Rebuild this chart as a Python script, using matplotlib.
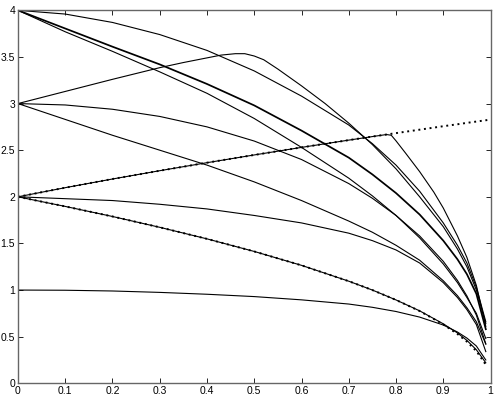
import matplotlib
matplotlib.use("Agg")
import matplotlib.pyplot as plt

plt.rcParams['font.family'] = ['Liberation Sans', 'DejaVu Sans']

X = [0, 0.1, 0.2, 0.3, 0.4, 0.5, 0.6, 0.7, 0.75, 0.8, 0.85, 0.9, 0.93, 0.95, 0.97, 0.99]

curve_a = [1, 0.998, 0.99, 0.975, 0.955, 0.93, 0.895, 0.85, 0.815, 0.77, 0.71, 0.625, 0.55, 0.485, 0.40, 0.25]
curve_d_dotted = [2, 1.897, 1.789, 1.673, 1.549, 1.414, 1.265, 1.095, 1.0, 0.894, 0.775, 0.632, 0.529, 0.447, 0.346, 0.2]
curve_d_solid = [2, 1.897, 1.789, 1.673, 1.549, 1.414, 1.265, 1.095, 1.0, 0.894, 0.777, 0.638, 0.54, 0.46, 0.36, 0.22]
curve_e = [2, 1.98, 1.96, 1.92, 1.87, 1.80, 1.72, 1.61, 1.53, 1.43, 1.29, 1.08, 0.92, 0.79, 0.63, 0.34]

X_F = X + [1.0]
curve_f_dotted = [2, 2.098, 2.191, 2.280, 2.366, 2.449, 2.530, 2.608, 2.646, 2.683, 2.720, 2.757, 2.778, 2.793, 2.807, 2.821, 2.828]

X_G = [0, 0.1, 0.2, 0.3, 0.4, 0.5, 0.6, 0.7, 0.75, 0.78, 0.79, 0.8, 0.82, 0.85, 0.88, 0.9, 0.93, 0.95, 0.97, 0.99]
curve_g = [2, 2.098, 2.191, 2.280, 2.366, 2.449, 2.530, 2.608, 2.646, 2.668, 2.66, 2.6, 2.47, 2.27, 2.05, 1.88, 1.58, 1.35, 1.05, 0.61]

X_C = [0, 0.1, 0.2, 0.3, 0.35, 0.4, 0.43, 0.46, 0.48, 0.5, 0.52, 0.55, 0.6, 0.65, 0.7, 0.75, 0.8,
       0.85, 0.9, 0.93, 0.95, 0.97, 0.99]
curve_c = [3, 3.13, 3.26, 3.385, 3.44, 3.49, 3.52, 3.535, 3.535, 3.51, 3.47, 3.37, 3.19, 3.0, 2.79, 2.56, 2.3,
           2.0, 1.68, 1.44, 1.25, 1.0, 0.64]

curve_b1 = [4, 3.96, 3.87, 3.74, 3.57, 3.35, 3.08, 2.77, 2.57, 2.34, 2.06, 1.72, 1.48, 1.29, 1.03, 0.66]
curve_b2 = [4, 3.805, 3.61, 3.42, 3.21, 2.98, 2.71, 2.42, 2.24, 2.04, 1.81, 1.53, 1.33, 1.17, 0.96, 0.58]
curve_b3 = [4, 3.77, 3.56, 3.34, 3.11, 2.84, 2.53, 2.2, 2.01, 1.8, 1.56, 1.28, 1.08, 0.92, 0.75, 0.48]
curve_h = [3, 2.985, 2.939, 2.862, 2.75, 2.598, 2.4, 2.142, 1.984, 1.8, 1.58, 1.308, 1.103, 0.937, 0.731, 0.423]
curve_i = [3, 2.83, 2.66, 2.5, 2.34, 2.16, 1.96, 1.74, 1.62, 1.48, 1.32, 1.1, 0.94, 0.81, 0.66, 0.42]

x_ticks = [0, 0.1, 0.2, 0.3, 0.4, 0.5, 0.6, 0.7, 0.8, 0.9, 1]
x_labels = ['0', '0.1', '0.2', '0.3', '0.4', '0.5', '0.6', '0.7', '0.8', '0.9', '1']
y_ticks = [0, 0.5, 1, 1.5, 2, 2.5, 3, 3.5, 4]
y_labels = ['0', '0.5', '1', '1.5', '2', '2.5', '3', '3.5', '4']

fig = plt.figure(figsize=(4.98, 3.97), dpi=100)
ax = fig.add_axes([0.0361, 0.0345, 0.9489, 0.9395])

lw = 0.8
solid = dict(color='black', lw=lw, solid_joinstyle='round')
ax.plot(X, curve_a, **solid)
ax.plot(X, curve_d_solid, **solid)
ax.plot(X, curve_e, **solid)
ax.plot(X_G, curve_g, **solid)
ax.plot(X_C, curve_c, **solid)
ax.plot(X, curve_b1, **solid)
ax.plot(X, curve_b2, color='black', lw=1.25, solid_joinstyle='round')
ax.plot(X, curve_b3, **solid)
ax.plot(X, curve_h, **solid)
ax.plot(X, curve_i, **solid)

dot = dict(color='black', lw=1.4, linestyle=(0, (1, 1.9)), dash_capstyle='butt')
ax.plot(X, curve_d_dotted, **dot)
ax.plot(X_F, curve_f_dotted, **dot)

ax.set_xlim(0, 1)
ax.set_ylim(0, 4)
ax.set_xticks(x_ticks)
ax.set_xticklabels(x_labels)
ax.set_yticks(y_ticks)
ax.set_yticklabels(y_labels)
ax.tick_params(direction='in', length=3.5, width=0.6, labelsize=7.5,
               top=True, right=True, pad=2, colors='black')
for s in ax.spines.values():
    s.set_linewidth(1.0)
    s.set_color('#666666')

fig.savefig('out.png', dpi=100)
